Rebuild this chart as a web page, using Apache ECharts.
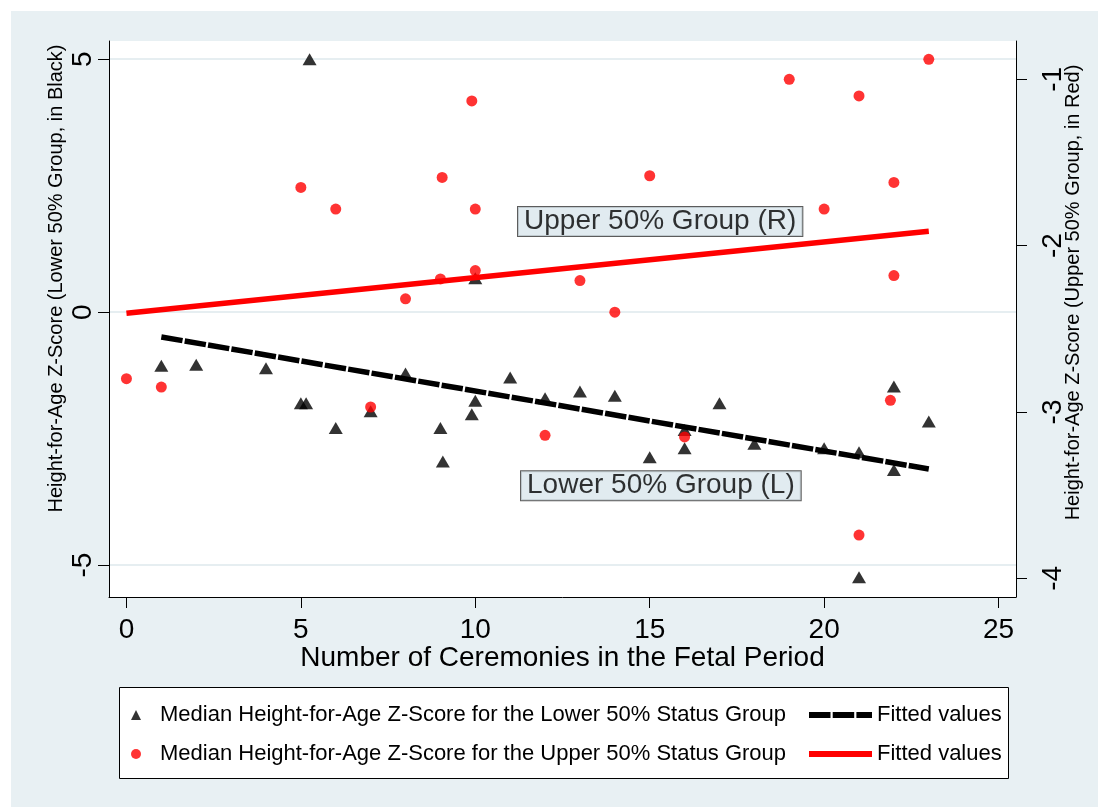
<!DOCTYPE html>
<html><head><meta charset="utf-8">
<script src="https://cdn.jsdelivr.net/npm/echarts@6/dist/echarts.min.js"></script>
<style>
html,body{margin:0;padding:0;background:#fff;}
#c{position:absolute;left:0;top:0;width:1098px;height:807px;
background: linear-gradient(#e8f0f3,#e8f0f3) 11px 11px / 1087px 796px no-repeat, #fff;}
</style></head><body><div id="c"></div>
<script>
// Lower 50% group (left axis, black triangles)
var lowerX = [1, 2, 4, 5, 5.15, 5.25, 6, 7, 8, 9, 9.07, 9.9, 10, 10, 11, 12, 13, 14, 15, 16, 16, 17, 18, 20, 21, 21, 22, 22, 23];
var lowerY = [-1.06, -1.04, -1.11, -1.80, -1.80, 5.0, -2.29, -1.96, -1.21, -2.29, -2.95, -2.02, -1.75, 0.67, -1.29, -1.70, -1.57, -1.65, -2.87, -2.69, -2.33, -1.80, -2.60, -2.69, -2.77, -5.24, -3.12, -1.47, -2.16];
// Upper 50% group (right axis, red dots)
var upperX = [0, 1, 5, 6, 7, 8, 9, 9.05, 9.9, 10, 10, 12, 13, 14, 15, 16, 19, 20, 21, 21, 21.9, 22, 22, 23];
var upperY = [-2.80, -2.85, -1.65, -1.78, -2.97, -2.32, -2.20, -1.59, -1.13, -1.78, -2.15, -3.14, -2.21, -2.40, -1.58, -3.15, -1.00, -1.78, -1.10, -3.74, -2.93, -1.62, -2.18, -0.88];
// Fitted values (endpoints)
var fitLowerX = [1, 23];
var fitLowerY = [-0.49, -3.10];
var fitUpperX = [0, 23];
var fitUpperY = [-2.406, -1.913];
// Axis ticks
var xTicks = [0, 5, 10, 15, 20, 25];
var leftTicks = [-5, 0, 5];
var rightTicks = [-4, -3, -2, -1];
// Text annotations (x, left-axis y, text)
var noteX = [15.3, 15.32];
var noteY = [1.79, -3.43];
var noteText = ['Upper 50% Group (R)', 'Lower 50% Group (L)'];

var nameLower = 'Median Height-for-Age Z-Score for the Lower 50% Status Group';
var nameUpper = 'Median Height-for-Age Z-Score for the Upper 50% Status Group';
var nameFitL = 'Fitted values (L)';
var nameFitR = 'Fitted values (R)';

function zip(a, b) { return a.map(function (v, i) { return [v, b[i]]; }); }

var FONT = 'Liberation Sans, Arial, sans-serif';
var chart = echarts.init(document.getElementById('c'), null, {renderer: 'canvas'});
chart.setOption({
  animation: false,
  backgroundColor: 'transparent',
  textStyle: {fontFamily: FONT, color: '#000'},
  grid: {left: 109, right: 82, top: 41, bottom: 210, show: true, backgroundColor: '#fff', borderWidth: 0,
         containLabel: false, outerBoundsMode: 'none'},
  xAxis: {
    type: 'value', min: -0.5, max: 25.5,
    name: 'Number of Ceremonies in the Fetal Period', nameLocation: 'middle', nameGap: 47,
    nameMoveOverlap: false,
    nameTextStyle: {fontSize: 28, color: '#000'},
    axisLine: {show: true, onZero: false, lineStyle: {color: '#000', width: 1}},
    axisTick: {show: true, length: 11, customValues: xTicks, lineStyle: {color: '#000'}},
    axisLabel: {fontSize: 28, color: '#000', margin: 19, customValues: xTicks},
    splitLine: {show: false}
  },
  yAxis: [{
    type: 'value', position: 'left', min: -5.63, max: 5.36,
    name: 'Height-for-Age Z-Score (Lower 50% Group, in Black)', nameLocation: 'middle', nameGap: 43,
    nameMoveOverlap: false,
    nameTextStyle: {fontSize: 20, color: '#000', padding: [0, 0, 0, 81]},
    axisLine: {show: true, onZero: false, lineStyle: {color: '#000', width: 1}},
    axisTick: {show: true, length: 11, customValues: leftTicks, lineStyle: {color: '#000'}},
    axisLabel: {fontSize: 28, color: '#000', rotate: 90, margin: 12, customValues: leftTicks},
    splitLine: {show: true, lineStyle: {color: '#e6eef1', width: 2}}
  }, {
    type: 'value', position: 'right', min: -4.112, max: -0.770,
    name: 'Height-for-Age Z-Score (Upper 50% Group, in Red)', nameLocation: 'middle', nameGap: 47,
    nameMoveOverlap: false,
    nameTextStyle: {fontSize: 20, color: '#000', padding: [0, 0, 0, 53]},
    axisLine: {show: true, onZero: false, lineStyle: {color: '#000', width: 1}},
    axisTick: {show: true, length: 11, customValues: rightTicks, lineStyle: {color: '#000'}},
    axisLabel: {fontSize: 28, color: '#000', rotate: 90, margin: 23, customValues: rightTicks},
    splitLine: {show: false}
  }],
  legend: [{
    orient: 'vertical', left: 131, top: 704, padding: 0,
    itemWidth: 10, itemHeight: 10, itemGap: 17, selectedMode: false,
    textStyle: {fontSize: 22, color: '#000', fontFamily: FONT, padding: [0, 0, 0, 14]},
    data: [nameLower, nameUpper]
  }, {
    orient: 'vertical', left: 806, top: 704, padding: 0,
    itemWidth: 63, itemHeight: 10, itemGap: 17, selectedMode: false,
    lineStyle: {width: 6},
    itemStyle: {color: 'transparent', borderWidth: 0, opacity: 0},
    textStyle: {fontSize: 22, color: '#000', fontFamily: FONT},
    formatter: function (n) { return n.replace(/ \([LR]\)$/, ''); },
    data: [nameFitL, nameFitR]
  }],
  graphic: [{
    type: 'rect', left: 119, top: 687, z: 0,
    shape: {width: 889, height: 91},
    style: {fill: '#fff', stroke: '#000', lineWidth: 1}
  }],
  series: [{
    name: nameLower, type: 'scatter', yAxisIndex: 0,
    symbol: 'triangle', symbolSize: [14, 12],
    itemStyle: {color: '#000'},
    data: zip(lowerX, lowerY)
  }, {
    name: nameFitL, type: 'line', yAxisIndex: 0, symbol: 'none',
    itemStyle: {color: '#000'},
    lineStyle: {color: '#000', width: 5.5, type: [21.5, 2.2]},
    data: zip(fitLowerX, fitLowerY)
  }, {
    name: nameUpper, type: 'scatter', yAxisIndex: 1,
    symbol: 'circle', symbolSize: 11,
    itemStyle: {color: '#ff0000'},
    data: zip(upperX, upperY)
  }, {
    name: nameFitR, type: 'line', yAxisIndex: 1, symbol: 'none',
    itemStyle: {color: '#ff0000'},
    lineStyle: {color: '#ff0000', width: 5.5},
    data: zip(fitUpperX, fitUpperY)
  }, {
    name: 'notes', type: 'scatter', yAxisIndex: 0, symbolSize: 0, silent: true, z: 5,
    label: {
      show: true, position: 'inside', fontSize: 28, color: '#000', fontFamily: FONT,
      backgroundColor: '#d9e6ec', borderColor: '#333', borderWidth: 1, padding: [1, 6, 0, 6],
      formatter: function (p) { return p.data[2]; }
    },
    data: noteX.map(function (v, i) { return [v, noteY[i], noteText[i]]; })
  }]
});
</script></body></html>
